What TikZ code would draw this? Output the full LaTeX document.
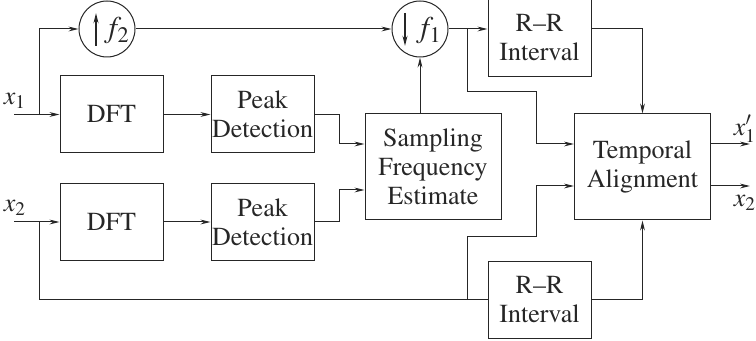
\documentclass[tikz,border=0pt]{standalone}
\usepackage[T1]{fontenc}
\usepackage{mathptmx}
\usetikzlibrary{positioning,arrows.meta,calc}
\begin{document}
\begin{tikzpicture}[x=0.5pt, y=-0.5pt,
    every node/.style={font=\fontsize{13}{14.5}\selectfont},
    blk/.style={draw, minimum width=51.5pt, minimum height=38.5pt, align=center, inner sep=0.5pt},
    big/.style={blk, minimum width=68pt, minimum height=53pt},
    rate/.style={draw, circle, minimum size=28pt, inner sep=0pt},
    ratelbl/.style={font=\fontsize{15}{15}\selectfont},
    arr/.style={-{Stealth[length=5pt,width=2.4pt]}},
    color=black!85, line width=0.5pt
]
\useasboundingbox (0,0) rectangle (756,341);
\node[blk] (dft1) at (111.5,114.5) {DFT};
\node[blk, right=23.5pt of dft1] (pk1) {Peak\\Detection};
\node[blk] (dft2) at (111.5,222) {DFT};
\node[blk, right=23.5pt of dft2] (pk2) {Peak\\Detection};
\node[big] (sfe) at (433,167) {Sampling\\Frequency\\Estimate};
\node[big] (tal) at (642.5,167) {Temporal\\Alignment};
\node[blk] (rr1) at (539.5,38) {R--R\\Interval};
\node[blk] (rr2) at (539.5,300) {R--R\\Interval};
\node[rate] (up) at (107,29) {};
\node[rate] (dn) at (420,29) {};
\node[ratelbl] (upf) at (117,31) {$f_2$};
\node[ratelbl] (dnf) at (429,31) {$f_1$};
\draw[arr, line width=0.9pt] (96,46) -- (96,13);
\draw[arr, line width=0.9pt] (405,13) -- (405,46);

\coordinate (in1) at (14,114.5);
\coordinate (in2) at (14,222);
\coordinate (b1) at (39,114.5);
\coordinate (b2) at (39,222);
\coordinate (j1) at (467,29);
\coordinate (j2) at (467,300);
\coordinate (out1) at (750,144);
\coordinate (out2) at (750,186);
\node (lx1) at (15,101) {$x_1$};
\node (lx2) at (15,208) {$x_2$};
\node (ly1) at (745,129) {$x_1'$};
\node (ly2) at (745,203) {$x_2$};

\draw[arr] (in1) -- (dft1);
\draw[arr] (b1) |- (up);
\draw[arr] (up) -- (dn);
\draw[arr] (dn) -- (dn -| rr1.west);
\draw[arr] (j1) |- (536,92) |- ($(tal.west)+(0,-23)$);
\draw[arr] (rr1.east |- dn) -| (tal.north);
\draw[arr] (sfe.north -| dn) -- (dn);
\draw[arr] (dft1) -- (pk1);
\draw[arr] (pk1.east) -- ++(25,0) |- ($(sfe.west)+(0,-23)$);
\draw[arr] (in2) -- (dft2);
\draw[arr] (dft2) -- (pk2);
\draw[arr] (pk2.east) -- ++(25,0) |- ($(sfe.west)+(0,23)$);
\draw (b2) |- (rr2);
\draw[arr] (j2) |- (536,237) |- ($(tal.west)+(0,19)$);
\draw[arr] (rr2) -| (tal.south);
\draw[arr] (tal.east |- out1) -- (out1);
\draw[arr] (tal.east |- out2) -- (out2);
\end{tikzpicture}
\end{document}
